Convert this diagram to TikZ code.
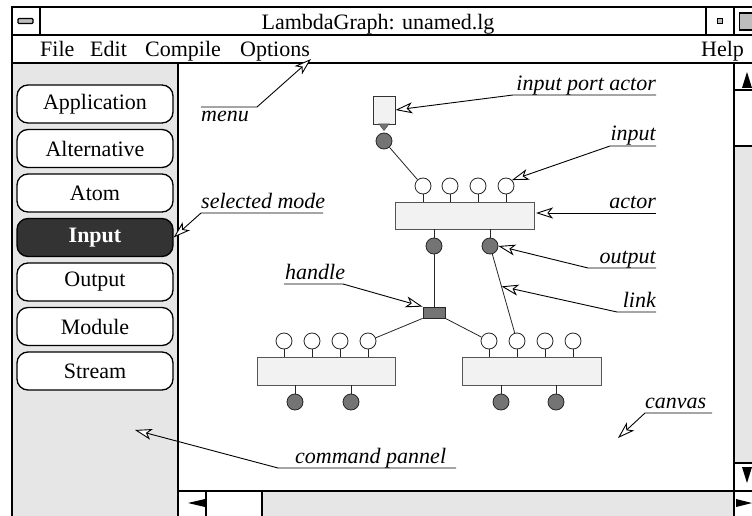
\documentclass[tikz,border=0pt]{standalone}
\usepackage{fontspec}
\setmainfont{Liberation Serif}
\usetikzlibrary{arrows.meta}
\definecolor{panelgray}{HTML}{E6E6E6}
\definecolor{boxfill}{HTML}{F2F2F2}
\definecolor{portdark}{HTML}{747474}
\definecolor{edgegray}{HTML}{555555}
\definecolor{iconfill}{HTML}{BDBDBD}
\begin{document}
\begin{tikzpicture}[x=1pt, y=-1pt,
  txt/.style={font=\fontsize{22}{26}\selectfont, inner sep=0pt},
  lbl/.style={font=\fontsize{22}{26}\selectfont\itshape, inner sep=0pt},
  frame/.style={line width=1.6pt, black},
  modebtn/.style={draw, line width=1.3pt, rounded corners=11pt, fill=white,
    minimum width=156pt, minimum height=38pt, inner sep=0pt,
    font=\fontsize{22}{26}\selectfont},
  selbtn/.style={modebtn, fill=black!80, text=white,
    font=\fontsize{22}{26}\selectfont\bfseries},
  callout/.style={line width=0.9pt, black,
    -{Stealth[open, fill=white, length=17pt, width=11pt, inset=4.5pt, line width=0.9pt]}},
  actorbox/.style={draw=edgegray, fill=boxfill, line width=0.9pt, inner sep=0pt},
  inport/.style={circle, draw=black!85, fill=white, minimum size=16pt,
    inner sep=0pt, line width=0.8pt},
  outport/.style={circle, draw=black!85, fill=portdark, minimum size=16pt,
    inner sep=0pt, line width=0.8pt},
  wire/.style={line width=0.8pt, black!85},
  sbarrow/.style={fill=black, draw=none}
]
\useasboundingbox (0,0) rectangle (752,516);

% ---------- backgrounds ----------
\fill[white] (0,0) rectangle (752,516);
\fill[panelgray] (12,63) rectangle (178,516);
\fill[panelgray] (734,146) rectangle (752,463);
\fill[panelgray] (262,491) rectangle (734,516);

% ---------- window frame ----------
\draw[frame] (12,516) -- (12,7) -- (752,7);
\draw[frame] (12,35) -- (752,35);
\draw[frame] (12,63) -- (752,63);
\draw[frame] (40,7) -- (40,35);
\draw[frame] (706,7) -- (706,35);
\draw[frame] (734,7) -- (734,35);
\draw[frame] (178,63) -- (178,516);
\draw[frame] (734,63) -- (734,516);
\draw[frame] (178,491) -- (752,491);
\draw[frame] (734,90) -- (752,90);
\draw[frame] (734,146) -- (752,146);
\draw[frame] (734,463) -- (752,463);
\draw[frame] (206,491) -- (206,516);
\draw[frame] (262,491) -- (262,516);

% title bar icons
\draw[line width=1.2pt, fill=iconfill, rounded corners=1pt] (18,18.5) rectangle (33,23.5);
\draw[line width=1.2pt, fill=iconfill] (717.5,18.5) rectangle (722.5,23.5);
\draw[line width=1.2pt, fill=iconfill] (739.5,13) rectangle (760,30);

% scroll arrows
\fill[sbarrow] (747,72) -- (752,88) -- (742,88) -- cycle;
\fill[sbarrow] (747,483) -- (752,467) -- (742,467) -- cycle;
\fill[sbarrow] (752,503) -- (736,499) -- (736,507) -- cycle;
\fill[sbarrow] (188,503) -- (205,499) -- (205,507) -- cycle;

% ---------- title and menu ----------
\node[txt, anchor=base] (title) at (378,30) {LambdaGraph: unamed.lg};
\node[txt, anchor=base west] (mFile) at (40,57) {File};
\node[txt, anchor=base west] (mEdit) at (90,57) {Edit};
\node[txt, anchor=base west] (mCompile) at (145,57) {Compile};
\node[txt, anchor=base west] (mOptions) at (240,57) {Options};
\node[txt, anchor=base west] (mHelp) at (701,57) {Help};

% ---------- command panel ----------
\node[modebtn] (bApp) at (95,104) {Application};
\node[modebtn] (bAlt) at (95,148.5) {Alternative};
\node[modebtn] (bAtom) at (95,193) {Atom};
\node[selbtn]  (bIn) at (95,237.5) {Input};
\node[modebtn] (bOut) at (95,282) {Output};
\node[modebtn] (bMod) at (95,326.5) {Module};
\node[modebtn] (bStr) at (95,371) {Stream};

% ---------- canvas graph ----------
% input port actor
\node[actorbox, draw=black!80, minimum width=22pt, minimum height=28pt] (P) at (384,110) {};
\filldraw[fill=portdark, draw=black!70, line width=0.5pt] (379,124) -- (389,124) -- (384,130.5) -- cycle;
\node[outport] (pc) at (384,141) {};

% main actor
\node[actorbox, minimum width=139pt, minimum height=27pt] (A) at (464.5,215.5) {};
\foreach \n/\x in {1/423, 2/450, 3/478, 4/506} {
  \node[inport] (a\n) at (\x,186) {};
  \draw[wire] (a\n.south) -- (a\n.south |- A.north);
}
\foreach \n/\x in {1/434, 2/490} {
  \node[outport] (ao\n) at (\x,246) {};
  \draw[wire] (ao\n.north |- A.south) -- (ao\n.north);
}

% lower left actor
\node[actorbox, minimum width=138pt, minimum height=28pt] (L) at (326,371) {};
\foreach \n/\x in {1/284, 2/312, 3/340, 4/368} {
  \node[inport] (l\n) at (\x,341) {};
  \draw[wire] (l\n.south) -- (l\n.south |- L.north);
}
\foreach \n/\x in {1/295, 2/351} {
  \node[outport] (lo\n) at (\x,402) {};
  \draw[wire] (lo\n.north |- L.south) -- (lo\n.north);
}

% lower right actor
\node[actorbox, minimum width=139pt, minimum height=28pt] (R) at (531.5,371) {};
\foreach \n/\x in {1/489, 2/517, 3/545, 4/573} {
  \node[inport] (r\n) at (\x,341) {};
  \draw[wire] (r\n.south) -- (r\n.south |- R.north);
}
\foreach \n/\x in {1/501, 2/556} {
  \node[outport] (ro\n) at (\x,402) {};
  \draw[wire] (ro\n.north |- R.south) -- (ro\n.north);
}

% handle
\node[draw=black!85, fill=portdark, line width=0.8pt, minimum width=22pt,
      minimum height=11pt, inner sep=0pt] (H) at (434,312.5) {};

% links
\draw[wire] (pc) -- (a1);
\draw[wire] (ao1) -- (H.north);
\draw[wire] (H.south west) -- (l4);
\draw[wire] (H.south east) -- (r1);
\draw[wire] (ao2) -- coordinate[pos=0.41] (linkpt) (r2);

% ---------- annotations ----------
\coordinate (menutip) at (311,59);
\coordinate (actortip) at (536,213);
\coordinate (cmdtip) at (135,430);
\coordinate (canvastip) at (618,438);

\node[lbl, anchor=base west] (tMenu) at (201,122) {menu};
\draw[callout] (201,107) -- (257,107) -- (menutip);

\node[lbl, anchor=base west] (tSel) at (201,208) {selected mode};
\draw[callout] (323,213) -- (201,213) -- (bIn.east);

\node[lbl, anchor=base east] (tPort) at (656,91) {input port actor};
\draw[callout] (656,95) -- (513,95) -- (P.east);

\node[lbl, anchor=base east] (tInput) at (656,141) {input};
\draw[callout] (656,146) -- (610,146) -- (a4.45);

\node[lbl, anchor=base east] (tActor) at (656,208) {actor};
\draw[callout] (656,213) -- (actortip);

\node[lbl, anchor=base east] (tOutput) at (656,263) {output};
\draw[callout] (656,268) -- (588,268) -- (ao2.east);

\node[lbl, anchor=base east] (tLink) at (656,307) {link};
\draw[callout] (656,312) -- (617,312) -- (linkpt);

\node[lbl, anchor=base west] (tHandle) at (285,279) {handle};
\draw[callout] (284,284) -- (343,284) -- (H.north west);

\node[lbl, anchor=base west] (tCmd) at (295,463) {command pannel};
\draw[callout] (456,468) -- (278,468) -- (cmdtip);

\node[lbl, anchor=base west] (tCanvas) at (645,408) {canvas};
\draw[callout] (712,413) -- (645,413) -- (canvastip);

\end{tikzpicture}
\end{document}
